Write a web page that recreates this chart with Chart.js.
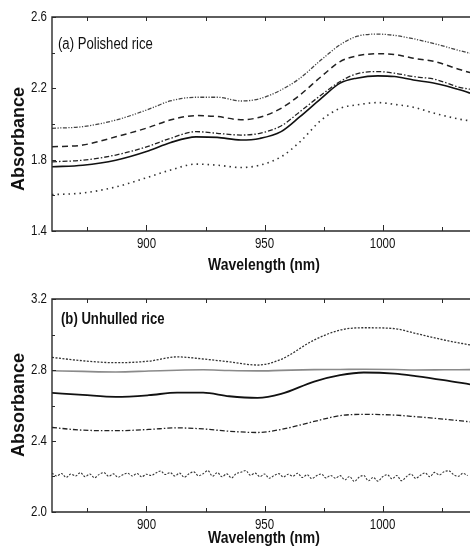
<!DOCTYPE html>
<html><head><meta charset="utf-8">
<script src="https://cdn.jsdelivr.net/npm/chart.js@4/dist/chart.umd.min.js"></script>
<style>
html,body{margin:0;padding:0;background:#fff;overflow:hidden;}
#wrap{position:relative;width:470px;height:550px;}
canvas{position:absolute;left:0;}
</style></head><body>
<div id="wrap">
<canvas id="ca" width="470" height="275" style="top:0"></canvas>
<canvas id="cb" width="470" height="275" style="top:275px"></canvas>
</div>
<script>
// ---------- data ----------
const panelTitles = ['(a) Polished rice', '(b) Unhulled rice'];
const xTitle = 'Wavelength (nm)';
const yTitle = 'Absorbance';
const xMajorTicks = [900, 950, 1000];
const xMinorTicks = [875, 925, 975, 1025];
const yMajorTicksA = [1.4, 1.8, 2.2, 2.6];
const yMinorTicksA = [1.6, 2.0, 2.4];
const yMajorTicksB = [2.0, 2.4, 2.8, 3.2];
const yMinorTicksB = [2.2, 2.6, 3.0];

const wavelengthsA = [860, 873, 887, 901, 910, 921, 930, 940, 948, 957, 965, 974, 982, 989, 998, 1005, 1013, 1022, 1033, 1037];
const polished1 = [1.976, 1.985, 2.022, 2.083, 2.129, 2.150, 2.150, 2.129, 2.142, 2.191, 2.257, 2.360, 2.444, 2.491, 2.504, 2.497, 2.478, 2.450, 2.410, 2.397];
const polished2 = [1.872, 1.882, 1.928, 1.981, 2.022, 2.047, 2.042, 2.024, 2.038, 2.088, 2.163, 2.266, 2.350, 2.382, 2.394, 2.390, 2.369, 2.350, 2.304, 2.288];
const polished3 = [1.788, 1.797, 1.826, 1.876, 1.919, 1.957, 1.948, 1.938, 1.948, 1.989, 2.069, 2.163, 2.238, 2.281, 2.294, 2.285, 2.266, 2.251, 2.204, 2.195];
const polished4 = [1.760, 1.769, 1.797, 1.850, 1.895, 1.928, 1.925, 1.910, 1.919, 1.957, 2.041, 2.144, 2.229, 2.257, 2.270, 2.266, 2.247, 2.229, 2.191, 2.173];
const polished5 = [1.604, 1.613, 1.647, 1.703, 1.741, 1.775, 1.769, 1.756, 1.769, 1.816, 1.900, 2.022, 2.088, 2.107, 2.120, 2.110, 2.094, 2.060, 2.026, 2.018];

const wavelengthsB = [860, 873, 887, 901, 913, 924, 935, 947, 957, 971, 982, 992, 1005, 1014, 1026, 1037];
const unhulled1 = [2.871, 2.852, 2.841, 2.850, 2.874, 2.862, 2.846, 2.828, 2.860, 2.969, 3.025, 3.038, 3.033, 3.006, 2.969, 2.941];
const unhulled2 = [2.796, 2.792, 2.789, 2.794, 2.799, 2.801, 2.797, 2.795, 2.798, 2.802, 2.803, 2.804, 2.803, 2.800, 2.801, 2.802];
const unhulled3 = [2.671, 2.660, 2.649, 2.658, 2.673, 2.672, 2.652, 2.643, 2.665, 2.735, 2.771, 2.786, 2.780, 2.766, 2.743, 2.719];
const unhulled4 = [2.476, 2.461, 2.458, 2.465, 2.474, 2.468, 2.455, 2.448, 2.465, 2.510, 2.543, 2.550, 2.546, 2.537, 2.523, 2.508];

const wavelengthsNoisy = [860, 862, 864, 866, 868, 870, 872, 874, 876, 878,
  880, 882, 884, 886, 888, 890, 892, 894, 896, 898,
  900, 902, 904, 906, 908, 910, 912, 914, 916, 918,
  920, 922, 924, 926, 928, 930, 932, 934, 936, 938,
  940, 942, 944, 946, 948, 950, 952, 954, 956, 958,
  960, 962, 964, 966, 968, 970, 972, 974, 976, 978,
  980, 982, 984, 986, 988, 990, 992, 994, 996, 998,
  1000, 1002, 1004, 1006, 1008, 1010, 1012, 1014, 1016, 1018,
  1020, 1022, 1024, 1026, 1028, 1030, 1032, 1034, 1036];
const unhulled5 = [2.219, 2.203, 2.217, 2.195, 2.214, 2.203, 2.222, 2.199, 2.214, 2.193,
  2.212, 2.222, 2.201, 2.215, 2.196, 2.210, 2.219, 2.203, 2.217, 2.198,
  2.213, 2.206, 2.220, 2.231, 2.211, 2.222, 2.203, 2.219, 2.196, 2.215,
  2.226, 2.204, 2.216, 2.233, 2.202, 2.222, 2.199, 2.215, 2.192, 2.216,
  2.224, 2.234, 2.207, 2.219, 2.199, 2.214, 2.190, 2.205, 2.216, 2.197,
  2.213, 2.202, 2.218, 2.194, 2.210, 2.188, 2.204, 2.214, 2.192, 2.206,
  2.190, 2.205, 2.181, 2.200, 2.172, 2.196, 2.206, 2.176, 2.195, 2.174,
  2.199, 2.210, 2.187, 2.206, 2.176, 2.198, 2.214, 2.189, 2.207, 2.220,
  2.199, 2.223, 2.209, 2.227, 2.232, 2.211, 2.201, 2.218, 2.205];

// ---------- helpers ----------
const pts = (xs, ys) => xs.map((x, i) => ({x: x, y: ys[i]}));
const ds = (xs, ys, color, width, dash) => ({
  data: pts(xs, ys), borderColor: color, borderWidth: width, borderDash: dash,
  pointRadius: 0, fill: false, cubicInterpolationMode: 'monotone'
});

const SANS = '"Liberation Sans", Arial, sans-serif';
const NARROW_K = 0.82;

// draws horizontally condensed text (Arial-Narrow look)
function narrowText(ctx, text, x, y, font, align) {
  ctx.save();
  ctx.font = font;
  ctx.textAlign = align;
  ctx.textBaseline = 'middle';
  ctx.scale(NARROW_K, 1);
  ctx.fillText(text, x / NARROW_K, y);
  ctx.restore();
}

const framePlugin = {
  id: 'frame',
  afterDraw(chart, args, o) {
    const ctx = chart.ctx, a = chart.chartArea, xs = chart.scales.x, ys = chart.scales.y;
    ctx.save();
    ctx.strokeStyle = '#2a2a2a';
    ctx.lineWidth = 1.4;
    ctx.beginPath();
    ctx.moveTo(a.right + 3, a.top); ctx.lineTo(a.left, a.top);
    ctx.lineTo(a.left, a.bottom); ctx.lineTo(a.right + 3, a.bottom);
    ctx.stroke();
    ctx.lineWidth = 1;
    ctx.beginPath();
    const xt = (v, len) => {
      const p = Math.round(xs.getPixelForValue(v)) + 0.5;
      ctx.moveTo(p, a.bottom); ctx.lineTo(p, a.bottom - len);
      ctx.moveTo(p, a.top); ctx.lineTo(p, a.top + 4);
    };
    const yt = (v, len) => {
      const p = Math.round(ys.getPixelForValue(v)) + 0.5;
      ctx.moveTo(a.left, p); ctx.lineTo(a.left + len, p);
    };
    xMajorTicks.forEach(v => xt(v, 6));
    xMinorTicks.forEach(v => xt(v, 4));
    o.yMajor.forEach(v => yt(v, 4));
    o.yMinor.forEach(v => yt(v, 3));
    ctx.stroke();
    ctx.fillStyle = '#111';
    // tick labels, placed through the scales
    xs.ticks.forEach(t => narrowText(ctx, String(t.value), xs.getPixelForValue(t.value), a.bottom + 13, '14px ' + SANS, 'center'));
    ys.ticks.forEach(t => narrowText(ctx, Number(t.value).toFixed(1), a.left - 5, ys.getPixelForValue(t.value), '14px ' + SANS, 'right'));
    // panel label
    narrowText(ctx, o.label, o.labelX, o.labelY, o.labelFont, 'left');
    // x title
    narrowText(ctx, xTitle, 264, o.xTitleY, 'bold 17px ' + SANS, 'center');
    // y title
    ctx.translate(19, o.yTitleY);
    ctx.rotate(-Math.PI / 2);
    ctx.textAlign = 'center';
    ctx.textBaseline = 'middle';
    ctx.font = 'bold 18px ' + SANS;
    ctx.fillText(yTitle, 0, 0);
    ctx.restore();
  }
};

function makeChart(id, datasets, yMin, yMax, yMajor, yMinor, topPad, xHeight, frameOpts) {
  return new Chart(document.getElementById(id), {
    type: 'line',
    data: {datasets: datasets},
    plugins: [framePlugin],
    options: {
      responsive: false, animation: false, devicePixelRatio: 1,
      layout: {padding: {top: topPad, left: 0, right: 0, bottom: 0}},
      plugins: {legend: {display: false}, tooltip: {enabled: false}, frame: frameOpts},
      scales: {
        x: {
          type: 'linear', min: 860, max: 1037,
          grid: {display: false, drawTicks: false}, border: {display: false},
          afterBuildTicks: s => { s.ticks = xMajorTicks.map(v => ({value: v})); },
          afterFit: s => { s.height = xHeight; },
          ticks: {display: false}
        },
        y: {
          type: 'linear', min: yMin, max: yMax,
          grid: {display: false, drawTicks: false}, border: {display: false},
          afterBuildTicks: s => { s.ticks = yMajor.map(v => ({value: v})); },
          afterFit: s => { s.width = 52; },
          ticks: {display: false}
        }
      }
    }
  });
}

makeChart('ca', [
  ds(wavelengthsA, polished1, '#444', 1.3, [4, 1.5, 1.2, 1.5, 1.2, 1.5]),
  ds(wavelengthsA, polished2, '#222', 1.5, [6, 4]),
  ds(wavelengthsA, polished3, '#222', 1.3, [5, 2, 1.5, 2]),
  ds(wavelengthsA, polished4, '#111', 1.6, []),
  ds(wavelengthsA, polished5, '#333', 1.6, [1.5, 4])
], 1.4, 2.6, yMajorTicksA, yMinorTicksA, 17, 44, {
  yMajor: yMajorTicksA, yMinor: yMinorTicksA,
  label: panelTitles[0], labelFont: '16px ' + SANS, labelX: 58, labelY: 45,
  xTitleY: 265, yTitleY: 139
});

makeChart('cb', [
  ds(wavelengthsB, unhulled1, '#333', 1.3, [2, 1.5]),
  ds(wavelengthsB, unhulled2, '#8a8a8a', 1.6, []),
  ds(wavelengthsB, unhulled3, '#111', 1.8, []),
  ds(wavelengthsB, unhulled4, '#222', 1.3, [5, 2, 1.5, 2]),
  ds(wavelengthsNoisy, unhulled5, '#333', 1.1, [2, 1.5])
], 2.0, 3.2, yMajorTicksB, yMinorTicksB, 24, 38, {
  yMajor: yMajorTicksB, yMinor: yMinorTicksB,
  label: panelTitles[1], labelFont: 'bold 16px ' + SANS, labelX: 61, labelY: 45,
  xTitleY: 263, yTitleY: 130
});
</script>
</body></html>
